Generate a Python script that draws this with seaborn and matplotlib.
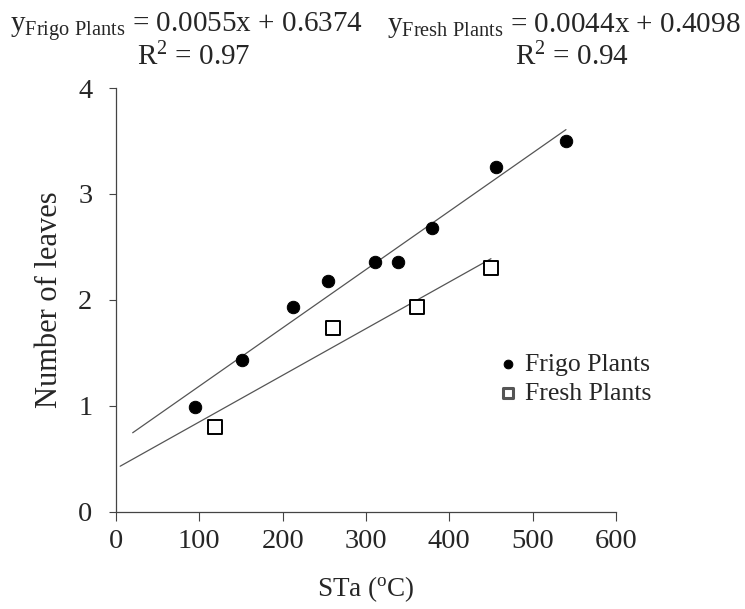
import matplotlib
matplotlib.use("Agg")
import matplotlib.pyplot as plt
import seaborn as sns
import pandas as pd

# data
frigo_x = [95, 151, 212, 254, 311, 339, 379, 456, 540]
frigo_y = [0.99, 1.43, 1.93, 2.18, 2.36, 2.36, 2.68, 3.25, 3.50]
fresh_x = [119, 260, 361, 450]
fresh_y = [0.80, 1.74, 1.93, 2.30]

# fitted trend lines (slope, intercept, x range drawn)
frigo_fit = (0.0055, 0.6374, [20, 540])
fresh_fit = (0.0044, 0.4098, [5, 450])

x_ticks = [0, 100, 200, 300, 400, 500, 600]
y_ticks = [0, 1, 2, 3, 4]

sns.set_theme(style="ticks")
plt.rcParams['font.family'] = ['Liberation Serif', 'DejaVu Serif']
plt.rcParams['mathtext.fontset'] = 'custom'
plt.rcParams['mathtext.rm'] = 'Liberation Serif'
plt.rcParams['mathtext.it'] = 'Liberation Serif'

fig = plt.figure(figsize=(7.45, 6.09), dpi=100)
ax = fig.add_axes([0.1557, 0.1593, 0.6711, 0.6962])

for (slope, icpt, xr) in [frigo_fit, fresh_fit]:
    line_df = pd.DataFrame({'x': xr, 'y': [slope * v + icpt for v in xr]})
    sns.lineplot(data=line_df, x='x', y='y', ax=ax, color='#555555', lw=0.9)

sns.scatterplot(x=frigo_x, y=frigo_y, ax=ax, marker='o', s=80, color='black',
                edgecolor='black', label='Frigo Plants', zorder=3)
sns.scatterplot(x=fresh_x, y=fresh_y, ax=ax, marker='s', s=115, facecolor='white',
                edgecolor='black', linewidth=1.4, label='Fresh Plants', zorder=3)

ax.set_xlim(0, 600)
ax.set_ylim(0, 4)
ax.set_xticks(x_ticks)
ax.set_yticks(y_ticks)
ax.tick_params(labelsize=20.5, direction='out', width=0.8, color='#444444')
ax.tick_params(axis='x', length=6.5, pad=6)
ax.tick_params(axis='y', length=5, pad=12)
for side in ['top', 'right']:
    ax.spines[side].set_visible(False)
for side in ['left', 'bottom']:
    ax.spines[side].set_color('#444444')
    ax.spines[side].set_linewidth(0.9)

ax.set_xlabel(r'STa ($^{\mathregular{o}}$C)', fontsize=19.5, labelpad=14)
ax.set_ylabel('Number of leaves', fontsize=22, labelpad=10)

leg = ax.legend(frameon=False, fontsize=18.5, loc='center left',
                bbox_to_anchor=(0.668, 0.378), bbox_transform=fig.transFigure,
                handlelength=0.8, handletextpad=0.25, borderaxespad=0,
                borderpad=0, labelspacing=0.25, markerscale=0.7)
leg.legend_handles[1].set_edgecolor('#555555')
leg.legend_handles[1].set_linewidth(2.2)

fig.text(0.013, 0.947, r'$\mathregular{y_{Frigo\ Plants}}$ = 0.0055x + 0.6374', fontsize=21)
fig.text(0.184, 0.893, r'R$^{\mathregular{2}}$ = 0.97', fontsize=21)
fig.text(0.994, 0.947, r'$\mathregular{y_{Fresh\ Plants}}$ = 0.0044x + 0.4098', fontsize=21,
         ha='right')
fig.text(0.691, 0.893, r'R$^{\mathregular{2}}$ = 0.94', fontsize=21)

plt.savefig('out.png', dpi=100)
